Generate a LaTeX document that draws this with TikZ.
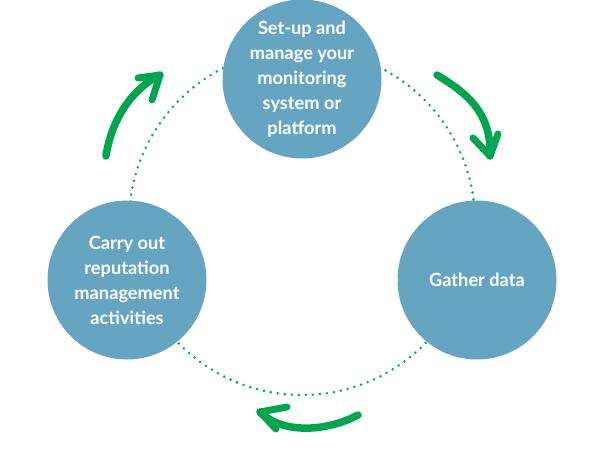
\documentclass[tikz,border=0pt]{standalone}
\usepackage{fontspec}
\setmainfont{Lato}
\definecolor{stepblue}{HTML}{66A5C1}
\definecolor{arrowgreen}{HTML}{00A64F}
\begin{document}
\begin{tikzpicture}[x=1pt,y=-1pt,
  stage/.style={circle,fill=stepblue,minimum size=159pt,inner sep=0pt,
    text=white,align=center,font=\fontsize{18.2}{25}\selectfont\bfseries},
  ring/.style={draw=arrowgreen,line width=2.8pt,line cap=round,dash pattern=on 0pt off 7.05pt},
  swoosh/.style={draw=arrowgreen,line width=7.5pt,line cap=round,line join=round},
  barb/.style={draw=arrowgreen,line width=7pt,line cap=round,line join=round}]
\useasboundingbox (0,0) rectangle (600,450);
\coordinate (ringc) at (302,222);
\draw[ring] (ringc) circle[radius=173];
\node[stage] (setup) at (302,79) {Set-up and\\manage your\\monitoring\\system or\\platform};
\node[stage] (gather) at (477,280) {Gather data};
\node[stage] (carry) at (127,280) {Carry out\\reputation\\management\\activities};
% top-left arrow
\coordinate (a1t) at (106,156);
\coordinate (a1h) at (160,75);
\coordinate (a1b1) at (138,78);
\coordinate (a1b2) at (152,100);
\draw[swoosh] (a1t) .. controls (111,122) and (130,90) .. (a1h);
\draw[barb] (a1b1) -- (a1h) -- (a1b2);
% top-right arrow
\coordinate (a2t) at (437,75);
\coordinate (a2h) at (490,156);
\coordinate (a2b1) at (473,138);
\coordinate (a2b2) at (498,134);
\draw[swoosh] (a2t) .. controls (465,92) and (492,112) .. (a2h);
\draw[barb] (a2b1) -- (a2h) -- (a2b2);
% bottom arrow
\coordinate (a3t) at (358,415);
\coordinate (a3h) at (260,412);
\coordinate (a3b1) at (287,407);
\coordinate (a3b2) at (276,429);
\draw[swoosh] (a3t) .. controls (330,430) and (285,436) .. (a3h);
\draw[barb] (a3b1) -- (a3h) -- (a3b2);
\end{tikzpicture}
\end{document}
